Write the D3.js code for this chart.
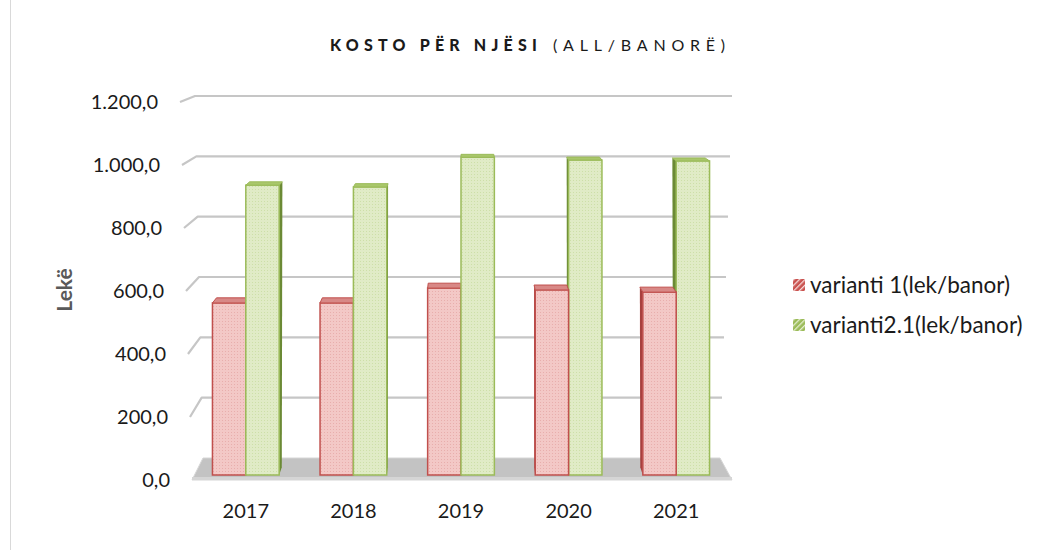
<!DOCTYPE html>
<html>
<head>
<meta charset="utf-8">
<script src="https://cdn.jsdelivr.net/npm/d3@7"></script>
<style>
  body { margin: 0; background: #fff; }
  svg { display: block; font-family: Lato, "Open Sans", sans-serif; }
</style>
</head>
<body>
<div id="chart"></div>
<script>
const years = ['2017', '2018', '2019', '2020', '2021'];
const seriesNames = ['varianti 1(lek/banor)', 'varianti2.1(lek/banor)'];
const variant1 = [555, 555, 603, 597, 590];
const variant21 = [935, 929, 1025, 1016, 1013];
const yTicks = [0, 200, 400, 600, 800, 1000, 1200];

const width = 1043;
const height = 550;
const centerX = 462;

const svg = d3.select('#chart')
  .append('svg')
  .attr('width', width)
  .attr('height', height);

const defs = svg.append('defs');
function dots(id, base, dot) {
  const p = defs.append('pattern')
    .attr('id', id)
    .attr('width', 3).attr('height', 3)
    .attr('patternUnits', 'userSpaceOnUse');
  p.append('rect').attr('width', 3).attr('height', 3).attr('fill', base);
  p.append('rect').attr('width', 1).attr('height', 1).attr('fill', dot);
}
dots('dotRed', '#f3c8c6', '#e8aeac');
dots('dotGreen', '#e0ebc6', '#cddfa8');

function stripes(id, base, line) {
  const p = defs.append('pattern')
    .attr('id', id)
    .attr('width', 4).attr('height', 4)
    .attr('patternUnits', 'userSpaceOnUse')
    .attr('patternTransform', 'rotate(45)');
  p.append('rect').attr('width', 4).attr('height', 4).attr('fill', base);
  p.append('rect').attr('width', 1.3).attr('height', 4).attr('fill', line);
}
stripes('legRed', '#c9524f', '#f6dada');
stripes('legGreen', '#9bbb59', '#e4eecf');

const colors = [
  { front: 'url(#dotRed)', stroke: '#c0504d', top: '#d88886', side: '#a8403e' },
  { front: 'url(#dotGreen)', stroke: '#9bbb59', top: '#a9c76b', side: '#6b8a35' }
];

// outer frame
svg.append('line')
  .attr('x1', 10.5).attr('x2', 10.5)
  .attr('y1', 0).attr('y2', height)
  .attr('stroke', '#d9d9d9');

// perspective scales
const yBack = d3.scaleLinear().domain([0, 1200]).range([458, 96]);
const yFront = d3.scaleLinear().domain([0, 1200]).range([480, 102]);
const xBackL = d3.scaleLinear().domain([0, 1200]).range([203, 195]);
const xFrontL = d3.scaleLinear().domain([0, 1200]).range([192, 180]);
const xBackR = d3.scaleLinear().domain([0, 1200]).range([720, 732]);
const y = d3.scaleLinear().domain([0, 1200]).range([475, 103]);

const x0 = d3.scaleBand()
  .domain(years)
  .range([192, 730])
  .paddingInner(0.38)
  .paddingOuter(0.19);
const x1 = d3.scaleBand()
  .domain([0, 1])
  .range([0, x0.bandwidth()]);

// floor
svg.append('path')
  .attr('d', `M${xFrontL(0)},${yFront(0)} L${xBackL(0)},${yBack(0)} L${xBackR(0)},${yBack(0)} L732,${yFront(0)} Z`)
  .attr('fill', '#c3c3c3')
  .attr('stroke', '#d6d6d6')
  .attr('stroke-width', 1);
svg.append('rect')
  .attr('x', xFrontL(0)).attr('y', yFront(0) - 3)
  .attr('width', 732 - xFrontL(0)).attr('height', 3)
  .attr('fill', '#d5d5d5');

// gridlines on back + left wall
svg.append('g')
  .selectAll('path')
  .data(yTicks.filter(d => d > 0))
  .join('path')
    .attr('d', d => `M${xFrontL(d)},${yFront(d)} L${xBackL(d)},${yBack(d)} L${xBackR(d)},${yBack(d)}`)
    .attr('fill', 'none')
    .attr('stroke', '#c6c6c6')
    .attr('stroke-width', 2.2)
    .attr('stroke-linejoin', 'round');

// tick labels
const fmt = d3.formatLocale({ decimal: ',', thousands: '.', grouping: [3], currency: ['', ''] }).format(',.1f');
svg.append('g')
  .selectAll('text')
  .data(yTicks)
  .join('text')
    .attr('x', d => xFrontL(d) - 22)
    .attr('y', d => yFront(d))
    .attr('dy', '0.35em')
    .attr('text-anchor', 'end')
    .attr('font-size', 20)
    .attr('fill', '#1a1a1a')
    .text(d => fmt(d));

// bars in perspective
const depth = 0.35;
function offset(xp, v) {
  const k = 0.041 + v / 1200 * 0.012;
  const dyFull = yFront(v) - yBack(v);
  return [(centerX - xp) * k * depth, dyFull * depth];
}

const bars = [];
years.forEach((yr, i) => {
  [variant1[i], variant21[i]].forEach((v, s) => {
    const xl = x0(yr) + x1(s);
    bars.push({ yr, s, v, xl, xr: xl + x1.bandwidth() });
  });
});
bars.sort((a, b) => Math.abs(((b.xl + b.xr) / 2) - centerX) - Math.abs(((a.xl + a.xr) / 2) - centerX));

const barG = svg.append('g');
bars.forEach(b => {
  const c = colors[b.s];
  const yt = y(b.v), yb = y(0);
  const g = barG.append('g');
  const left = (b.xl + b.xr) / 2 > centerX;
  const ex = left ? b.xl : b.xr;
  const [dxT, dyT] = offset(ex, b.v);
  const [dxB, dyB] = offset(ex, 0);
  g.append('path')
    .attr('d', `M${ex},${yt} L${ex + dxT},${yt - dyT} L${ex + dxB},${yb - dyB} L${ex},${yb} Z`)
    .attr('fill', c.side);
  g.append('rect')
    .attr('x', b.xl).attr('y', yt)
    .attr('width', b.xr - b.xl).attr('height', yb - yt)
    .attr('fill', c.front)
    .attr('stroke', c.stroke)
    .attr('stroke-width', 1.5);
  const [dxl, dyl] = offset(b.xl, b.v);
  const [dxr, dyr] = offset(b.xr, b.v);
  g.append('path')
    .attr('d', `M${b.xl},${yt} L${b.xr},${yt} L${b.xr + dxr},${yt - dyr} L${b.xl + dxl},${yt - dyl} Z`)
    .attr('fill', c.top)
    .attr('stroke', c.stroke)
    .attr('stroke-width', 1);
});

// x labels
svg.append('g')
  .selectAll('text')
  .data(years)
  .join('text')
    .attr('x', d => x0(d) + x0.bandwidth() / 2)
    .attr('y', 511)
    .attr('dy', '0.35em')
    .attr('text-anchor', 'middle')
    .attr('font-size', 20)
    .attr('fill', '#1a1a1a')
    .text(d => d);

// y axis title
svg.append('text')
  .attr('transform', 'translate(65,290) rotate(-90)')
  .attr('dy', '0.35em')
  .attr('text-anchor', 'middle')
  .attr('font-size', 21)
  .attr('font-weight', 'bold')
  .attr('fill', '#595959')
  .text('Lekë');

// title
const title = svg.append('text')
  .attr('x', 330)
  .attr('y', 51)
  .attr('font-size', 16)
  .attr('fill', '#1a1a1a');
title.append('tspan')
  .attr('font-weight', 900)
  .attr('letter-spacing', 5.2)
  .text('KOSTO PËR NJËSI');
title.append('tspan')
  .attr('x', 553)
  .attr('letter-spacing', 5.8)
  .text('(ALL/BANORË)');

// legend
const legend = svg.append('g')
  .selectAll('g')
  .data(seriesNames)
  .join('g')
    .attr('transform', (d, i) => `translate(793,${285 + i * 40})`);
legend.append('rect')
  .attr('x', 0).attr('y', -6)
  .attr('width', 12).attr('height', 12)
  .attr('fill', (d, i) => i === 0 ? 'url(#legRed)' : 'url(#legGreen)');
legend.append('text')
  .attr('x', 17)
  .attr('dy', '0.35em')
  .attr('font-size', 22.5)
  .attr('fill', '#1a1a1a')
  .text(d => d);
</script>
</body>
</html>
